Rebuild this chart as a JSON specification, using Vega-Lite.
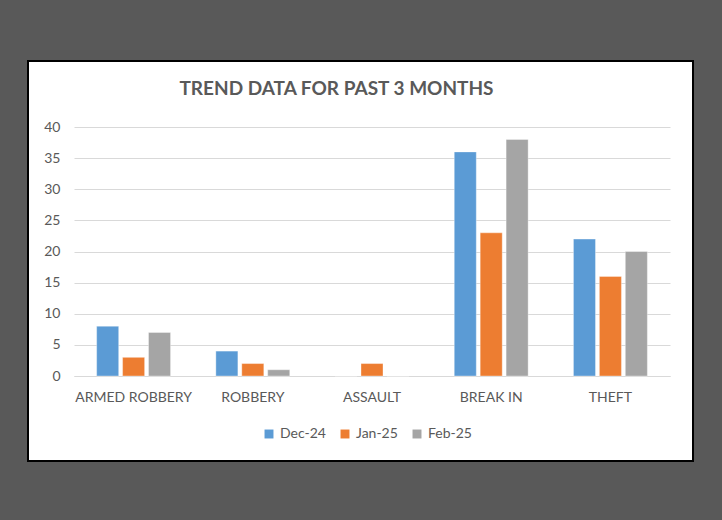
{
  "$schema": "https://vega.github.io/schema/vega-lite/v6.json",
  "autosize": "none",
  "width": 665,
  "height": 400,
  "padding": {"left": 28, "top": 61, "right": 29, "bottom": 59},
  "background": "#595959",
  "title": {
    "text": "TREND DATA FOR PAST 3 MONTHS",
    "anchor": "middle",
    "offset": -38,
    "dx": -24,
    "font": "Lato",
    "fontSize": 19,
    "fontWeight": "bold",
    "color": "#595959"
  },
  "data": {
    "values": [
      {"crime": "ARMED ROBBERY", "month": "Dec-24", "count": 8},
      {"crime": "ARMED ROBBERY", "month": "Jan-25", "count": 3},
      {"crime": "ARMED ROBBERY", "month": "Feb-25", "count": 7},
      {"crime": "ROBBERY", "month": "Dec-24", "count": 4},
      {"crime": "ROBBERY", "month": "Jan-25", "count": 2},
      {"crime": "ROBBERY", "month": "Feb-25", "count": 1},
      {"crime": "ASSAULT", "month": "Dec-24", "count": 0},
      {"crime": "ASSAULT", "month": "Jan-25", "count": 2},
      {"crime": "ASSAULT", "month": "Feb-25", "count": 0},
      {"crime": "BREAK IN", "month": "Dec-24", "count": 36},
      {"crime": "BREAK IN", "month": "Jan-25", "count": 23},
      {"crime": "BREAK IN", "month": "Feb-25", "count": 38},
      {"crime": "THEFT", "month": "Dec-24", "count": 22},
      {"crime": "THEFT", "month": "Jan-25", "count": 16},
      {"crime": "THEFT", "month": "Feb-25", "count": 20}
    ]
  },
  "mark": {"type": "bar", "stroke": "white", "strokeWidth": 0.6, "strokeOpacity": 0.6},
  "encoding": {
    "x": {
      "field": "crime",
      "type": "nominal",
      "sort": ["ARMED ROBBERY", "ROBBERY", "ASSAULT", "BREAK IN", "THEFT"],
      "scale": {"range": [46, 642], "paddingInner": 0.38, "paddingOuter": 0.19},
      "axis": {
        "title": null,
        "labelAngle": 0,
        "offset": -85,
        "ticks": false,
        "domain": true,
        "domainColor": "#D9D9D9",
        "domainWidth": 1,
        "labelPadding": 14,
        "labelFont": "Lato",
        "labelFontSize": 14,
        "labelColor": "#595959"
      }
    },
    "xOffset": {
      "field": "month",
      "type": "nominal",
      "sort": ["Dec-24", "Jan-25", "Feb-25"],
      "scale": {"paddingInner": 0.15, "paddingOuter": 0}
    },
    "y": {
      "field": "count",
      "type": "quantitative",
      "scale": {"domain": [0, 40], "range": [315, 66], "nice": false},
      "axis": {
        "title": null,
        "values": [0, 5, 10, 15, 20, 25, 30, 35, 40],
        "offset": 0,
        "ticks": false,
        "domain": false,
        "grid": true,
        "gridColor": "#D9D9D9",
        "gridWidth": 1,
        "labelPadding": -32,
        "labelAlign": "right",
        "labelFont": "Lato",
        "labelFontSize": 14,
        "labelColor": "#595959"
      }
    },
    "color": {
      "field": "month",
      "type": "nominal",
      "sort": ["Dec-24", "Jan-25", "Feb-25"],
      "scale": {"domain": ["Dec-24", "Jan-25", "Feb-25"], "range": ["#5B9BD5", "#ED7D31", "#A5A5A5"]},
      "legend": {
        "title": null,
        "orient": "none",
        "legendX": 234,
        "legendY": 366,
        "direction": "horizontal",
        "symbolType": "square",
        "symbolSize": 80,
        "symbolStrokeWidth": 0,
        "labelFont": "Lato",
        "labelFontSize": 14,
        "labelColor": "#595959",
        "columnPadding": 12,
        "labelOffset": 4
      }
    }
  },
  "config": {
    "view": {"fill": "white", "stroke": "black", "strokeWidth": 2}
  }
}
